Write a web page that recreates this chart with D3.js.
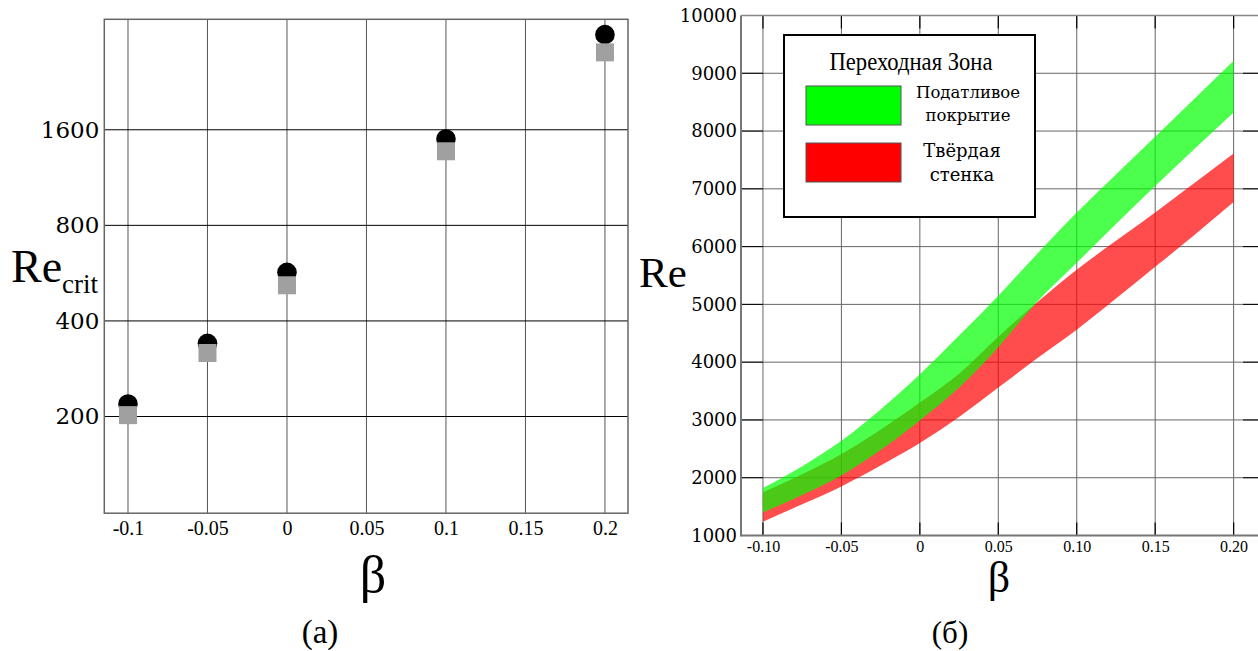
<!DOCTYPE html>
<html><head><meta charset="utf-8">
<script src="https://cdn.jsdelivr.net/npm/d3@7"></script>
<style>html,body{margin:0;padding:0;background:#fff;}svg{display:block;}</style>
</head><body>
<script>
// ---------- Panel (a) data ----------
const betaA = [-0.1, -0.05, 0, 0.1, 0.2];
const reCircle = [219, 340, 569, 1497, 3190];
const reSquare = [202, 317, 518, 1369, 2805];
const yTicksA = [200, 400, 800, 1600];
const xTicksA = [-0.1, -0.05, 0, 0.05, 0.1, 0.15, 0.2];
const xTickLabelsA = ["-0.1", "-0.05", "0", "0.05", "0.1", "0.15", "0.2"];

// ---------- Panel (б) data ----------
const betaB = [-0.1, -0.075, -0.05, -0.025, 0, 0.025, 0.05, 0.075, 0.1, 0.125, 0.15, 0.175, 0.2];
const compliantHigh = [1820, 2200, 2640, 3180, 3790, 4460, 5150, 5880, 6590, 7250, 7900, 8560, 9215];
const compliantLow  = [1400, 1700, 2040, 2480, 2990, 3560, 4260, 5050, 5720, 6390, 7050, 7690, 8320];
const rigidHigh     = [1750, 2060, 2410, 2830, 3300, 3800, 4440, 5040, 5600, 6100, 6590, 7100, 7610];
const rigidLow      = [1240, 1540, 1850, 2210, 2600, 3050, 3560, 4070, 4560, 5100, 5650, 6200, 6770];
const yTicksB = [1000, 2000, 3000, 4000, 5000, 6000, 7000, 8000, 9000, 10000];
const xTicksB = [-0.1, -0.05, 0, 0.05, 0.1, 0.15, 0.2];
const xTickLabelsB = ["-0.10", "-0.05", "0", "0.05", "0.10", "0.15", "0.20"];
const legendTitle = "Переходная Зона";
const legendLabels = [["Податливое", "покрытие"], ["Твёрдая", "стенка"]];
const legendColors = ["#00ff00", "#ff0000"];

const W = 1258, H = 651;
const svg = d3.select("body").append("svg").attr("width", W).attr("height", H);

// ================= Panel (a) =================
const xA = d3.scaleLinear().domain([-0.1149, 0.2145]).range([104.3, 628]);
const yA = d3.scaleLog().domain([99.2, 3565]).range([513.2, 19.3]);
const gA = svg.append("g");

gA.selectAll("line.vg").data(xTicksA).join("line")
  .attr("x1", d => xA(d)).attr("x2", d => xA(d))
  .attr("y1", yA.range()[1]).attr("y2", yA.range()[0])
  .attr("stroke", "#555").attr("stroke-width", 1);
gA.selectAll("line.hg").data(yTicksA).join("line")
  .attr("x1", xA.range()[0]).attr("x2", xA.range()[1])
  .attr("y1", d => yA(d)).attr("y2", d => yA(d))
  .attr("stroke", "#000").attr("stroke-width", 1);
gA.append("rect").attr("x", xA.range()[0]).attr("y", yA.range()[1])
  .attr("width", xA.range()[1] - xA.range()[0]).attr("height", yA.range()[0] - yA.range()[1])
  .attr("fill", "none").attr("stroke", "#666").attr("stroke-width", 1.5);

const axAy = d3.axisLeft(yA).tickValues(yTicksA).tickFormat(d3.format("d")).tickSize(0).tickPadding(5);
const gAy = gA.append("g").attr("transform", `translate(${xA.range()[0]},0)`).call(axAy);
gAy.select(".domain").remove();
gAy.selectAll("text").attr("font-family", "DejaVu Serif").attr("font-size", 23).attr("fill", "#000");

const axAx = d3.axisBottom(xA).tickValues(xTicksA).tickFormat((d, i) => xTickLabelsA[i]).tickSize(0).tickPadding(8);
const gAx = gA.append("g").attr("transform", `translate(0,${yA.range()[0]})`).call(axAx);
gAx.select(".domain").remove();
gAx.selectAll("text").attr("font-family", "Liberation Serif").attr("font-size", 20).attr("fill", "#000");

gA.selectAll("circle.pt").data(betaA).join("circle")
  .attr("cx", d => xA(d)).attr("cy", (d, i) => yA(reCircle[i])).attr("r", 9.8).attr("fill", "#000");
gA.selectAll("rect.sq").data(betaA).join("rect")
  .attr("x", d => xA(d) - 9).attr("y", (d, i) => yA(reSquare[i]) - 9)
  .attr("width", 18).attr("height", 18).attr("fill", "#a0a0a0");

svg.append("text").attr("x", 11).attr("y", 282).attr("font-family", "Liberation Serif").attr("font-size", 46).text("Re");
svg.append("text").attr("x", 62).attr("y", 293).attr("font-family", "Liberation Serif").attr("font-size", 27).text("crit");
svg.append("text").attr("x", 373).attr("y", 592).attr("text-anchor", "middle").attr("font-family", "Liberation Serif").attr("font-size", 52).text("β");
svg.append("text").attr("x", 320).attr("y", 643).attr("text-anchor", "middle").attr("font-family", "Liberation Serif").attr("font-size", 33).text("(a)");

// ================= Panel (б) =================
const xB = d3.scaleLinear().domain([-0.114, 0.22]).range([741, 1265]);
const yB = d3.scaleLinear().domain([1000, 10000]).range([535.5, 15.5]);
const gB = svg.append("g");

gB.selectAll("line.vg").data(xTicksB).join("line")
  .attr("x1", d => xB(d)).attr("x2", d => xB(d))
  .attr("y1", yB.range()[1]).attr("y2", yB.range()[0])
  .attr("stroke", "#666").attr("stroke-width", 1);
gB.selectAll("line.hg").data(yTicksB.slice(1)).join("line")
  .attr("x1", xB.range()[0]).attr("x2", xB.range()[1])
  .attr("y1", d => yB(d)).attr("y2", d => yB(d))
  .attr("stroke", "#666").attr("stroke-width", 1);

const bandData = (lo, hi) => betaB.map((b, i) => ({b, lo: lo[i], hi: hi[i]}));
const area = d3.area().x(d => xB(d.b)).y0(d => yB(d.lo)).y1(d => yB(d.hi)).curve(d3.curveMonotoneX);
gB.append("path").datum(bandData(rigidLow, rigidHigh)).attr("d", area).attr("fill", "#ff0000").attr("fill-opacity", 0.7);
gB.append("path").datum(bandData(compliantLow, compliantHigh)).attr("d", area).attr("fill", "#00ff00").attr("fill-opacity", 0.7);

gB.selectAll("line.lt").data(yTicksB).join("line")
  .attr("x1", xB.range()[0]).attr("x2", xB.range()[0] + 22)
  .attr("y1", d => yB(d)).attr("y2", d => yB(d)).attr("stroke", "#000").attr("stroke-width", 1);
gB.selectAll("line.rt").data(yTicksB).join("line")
  .attr("x1", xB.range()[1] - 22).attr("x2", xB.range()[1])
  .attr("y1", d => yB(d)).attr("y2", d => yB(d)).attr("stroke", "#000").attr("stroke-width", 1);
gB.selectAll("line.bt").data(xTicksB).join("line")
  .attr("x1", d => xB(d)).attr("x2", d => xB(d))
  .attr("y1", yB.range()[0] - 13).attr("y2", yB.range()[0]).attr("stroke", "#000").attr("stroke-width", 1.2);
gB.selectAll("line.tt").data(xTicksB).join("line")
  .attr("x1", d => xB(d)).attr("x2", d => xB(d))
  .attr("y1", yB.range()[1]).attr("y2", yB.range()[1] + 13).attr("stroke", "#000").attr("stroke-width", 1.2);

gB.append("line").attr("x1", xB.range()[0]).attr("x2", xB.range()[0]).attr("y1", yB.range()[1]).attr("y2", yB.range()[0] + 1).attr("stroke", "#777").attr("stroke-width", 2);
gB.append("line").attr("x1", xB.range()[0]).attr("x2", xB.range()[1]).attr("y1", yB.range()[0]).attr("y2", yB.range()[0]).attr("stroke", "#777").attr("stroke-width", 2);
gB.append("line").attr("x1", xB.range()[0]).attr("x2", xB.range()[1]).attr("y1", yB.range()[1]).attr("y2", yB.range()[1]).attr("stroke", "#888").attr("stroke-width", 1.5);

const axBy = d3.axisLeft(yB).tickValues(yTicksB).tickFormat(d3.format("d")).tickSize(0).tickPadding(4);
const gBy = gB.append("g").attr("transform", `translate(${xB.range()[0]},0)`).call(axBy);
gBy.select(".domain").remove();
gBy.selectAll("text").attr("font-family", "DejaVu Serif").attr("font-size", 18).attr("fill", "#000");

const axBx = d3.axisBottom(xB).tickValues(xTicksB).tickFormat((d, i) => xTickLabelsB[i]).tickSize(0).tickPadding(5);
const gBx = gB.append("g").attr("transform", `translate(0,${yB.range()[0]})`).call(axBx);
gBx.select(".domain").remove();
gBx.selectAll("text").attr("font-family", "Liberation Serif").attr("font-size", 16).attr("fill", "#000");

svg.append("text").attr("x", 639).attr("y", 287).attr("font-family", "Liberation Serif").attr("font-size", 43).text("Re");
svg.append("text").attr("x", 999).attr("y", 592).attr("text-anchor", "middle").attr("font-family", "Liberation Serif").attr("font-size", 44).text("β");
svg.append("text").attr("x", 950).attr("y", 643).attr("text-anchor", "middle").attr("font-family", "Liberation Serif").attr("font-size", 31).text("(б)");

// legend
const lg = svg.append("g");
lg.append("rect").attr("x", 784).attr("y", 35).attr("width", 251).attr("height", 182)
  .attr("fill", "#fff").attr("stroke", "#000").attr("stroke-width", 2);
lg.append("text").attr("x", 911).attr("y", 70).attr("text-anchor", "middle")
  .attr("font-family", "Liberation Serif").attr("font-size", 25)
  .attr("textLength", 163).attr("lengthAdjust", "spacingAndGlyphs").text(legendTitle);
const swY = [86, 143];
legendColors.forEach((c, i) => {
  lg.append("rect").attr("x", 806).attr("y", swY[i]).attr("width", 95).attr("height", 39)
    .attr("fill", c).attr("stroke", "#555").attr("stroke-width", 1);
});
const lblCfg = [{cx: 968, y: [98, 121], fs: 16.5}, {cx: 962, y: [157, 181], fs: 18}];
legendLabels.forEach((lines, i) => {
  lines.forEach((t, j) => {
    lg.append("text").attr("x", lblCfg[i].cx).attr("y", lblCfg[i].y[j]).attr("text-anchor", "middle")
      .attr("font-family", "DejaVu Serif").attr("font-size", lblCfg[i].fs).text(t);
  });
});
</script>
</body></html>
